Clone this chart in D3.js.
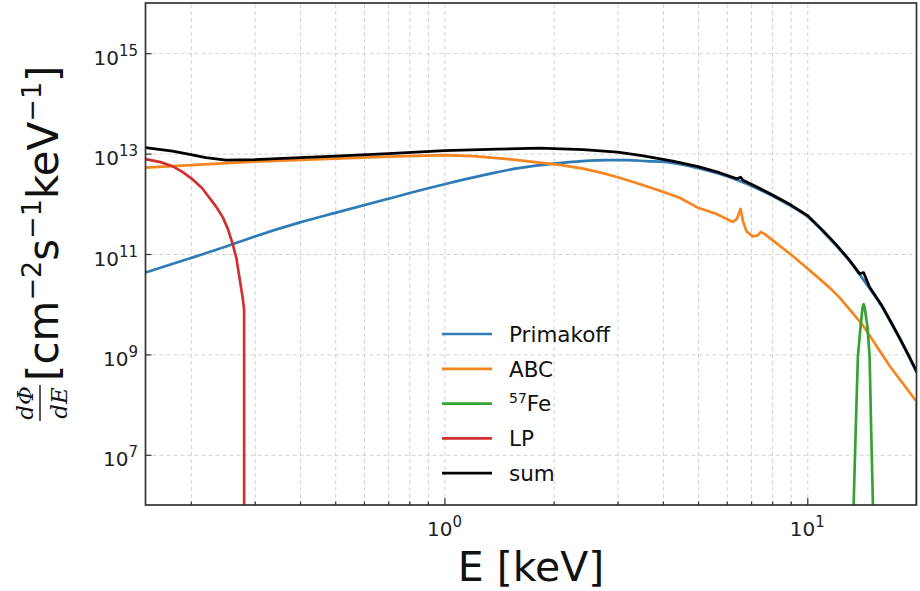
<!DOCTYPE html>
<html><head><meta charset="utf-8">
<script src="https://cdn.jsdelivr.net/npm/d3@7"></script>
<style>body{margin:0;background:#fff}svg{display:block}</style>
</head><body>
<svg id="c" width="920" height="591"></svg>
<script>
// ---- data (E in keV, flux in cm^-2 s^-1 keV^-1) ----
const seriesNames = ["Primakoff", "ABC", "57Fe", "LP", "sum"];
const seriesColors = ["#2f7bb6", "#f5861f", "#36a236", "#d03030", "#000000"];

const primakoffE = [0.15,0.2,0.25,0.3,0.4,0.5,0.7,1.0,1.3,1.6,2.0,2.4,2.8,3.2,3.6,4.2,4.8,5.4,6.0,6.6,7.2,8.0,9.0,10.0,11.0,12.0,13.0,14.0,15.0,16.0,17.0,18.0,19.0,20.0];
const primakoffFlux = [4.27e10,8.32e10,1.41e11,2.24e11,4.27e11,6.61e11,1.26e12,2.45e12,3.80e12,5.13e12,6.31e12,7.08e12,7.41e12,7.41e12,7.08e12,6.61e12,5.50e12,4.47e12,3.55e12,2.75e12,2.09e12,1.45e12,9.12e11,5.62e11,2.88e11,1.48e11,7.59e10,3.72e10,1.86e10,9.33e9,4.27e9,2.0e9,9.33e8,4.37e8];

const abcE = [0.15,0.2,0.3,0.5,0.7,1.0,1.2,1.5,1.83,2.1,2.41,2.7,3.04,3.5,4.0,4.45,5.0,5.6,6.23,6.4,6.55,6.65,6.8,7.08,7.3,7.45,7.62,8.0,9.12,10.2,11.52,12.28,14.17,16.87,19.76,20.0,20.0];
const abcFlux = [5.25e12,5.89e12,6.92e12,7.94e12,8.71e12,9.33e12,8.91e12,7.76e12,6.61e12,5.89e12,5.01e12,4.17e12,3.31e12,2.40e12,1.74e12,1.32e12,8.32e11,6.31e11,4.37e11,5.01e11,7.94e11,4.47e11,2.82e11,2.24e11,2.34e11,2.75e11,2.51e11,1.91e11,9.12e10,4.57e10,2.14e10,1.35e10,3.98e9,5.89e8,1.29e8,1.17e8,1e1];

const feE = [13.0,13.42,13.6,13.79,14.03,14.2,14.3,14.4,14.64,14.85,15.0,15.17,15.6];
const feFlux = [1e2,1e6,3.2e7,9.3e8,3.7e9,8.5e9,1.0e10,8.5e9,3.7e9,9.3e8,3.2e7,1e6,1e2];

const lpE = [0.15,0.165,0.178,0.19,0.202,0.215,0.225,0.235,0.245,0.253,0.261,0.267,0.272,0.277,0.2805,0.2806];
const lpFlux = [7.76e12,6.76e12,5.62e12,4.27e12,3.09e12,2.04e12,1.32e12,8.7e11,5.37e11,3.16e11,1.55e11,8.3e10,3.55e10,1.58e10,7.9e9,1];

const sumE = [0.15,0.178,0.2,0.22,0.25,0.3,0.4,0.5,0.7,1.0,1.4,1.83,2.41,3.0,3.5,4.26,5.0,5.73,6.4,6.55,6.65,7.2,8.0,9.0,10.0,11.0,12.0,13.0,13.94,14.3,14.5,14.85,15.5,16.0,17.0,18.0,19.0,20.0];
const sumFlux = [1.32e13,1.12e13,9.55e12,8.32e12,7.41e12,7.59e12,8.32e12,8.91e12,1.0e13,1.15e13,1.23e13,1.29e13,1.20e13,1.07e13,9.12e12,7.08e12,5.50e12,4.17e12,3.16e12,3.39e12,2.95e12,2.24e12,1.51e12,9.55e11,5.89e11,3.02e11,1.55e11,7.94e10,4.07e10,4.27e10,3.31e10,2.19e10,1.38e10,9.77e9,4.47e9,2.09e9,9.77e8,4.68e8];

const xMajorTicks = [1, 10];
const xMinorTicks = [0.2,0.3,0.4,0.5,0.6,0.7,0.8,0.9,2,3,4,5,6,7,8,9];
const xTickExp = ["0", "1"];
const yMajorTicks = [1e7, 1e9, 1e11, 1e13, 1e15];
const yTickExp = ["7", "9", "11", "13", "15"];

// ---- layout ----
const svg = d3.select("#c");
const L = 145.5, R = 916.5, T = 3, B = 505;
const x = d3.scaleLog().domain([0.15, 20]).range([L, R]);
const y = d3.scaleLog().domain([1e6, 1e16]).range([B, T]);

svg.append("rect").attr("width", 920).attr("height", 591).attr("fill", "#fff");
svg.append("defs").append("clipPath").attr("id", "clip")
  .append("rect").attr("x", L).attr("y", T).attr("width", R - L).attr("height", B - T);

// grid
const gx = svg.append("g").attr("transform", `translate(0,${B})`)
  .call(d3.axisBottom(x).tickValues(xMajorTicks.concat(xMinorTicks)).tickSize(-(B - T)).tickFormat(""));
gx.select(".domain").remove();
gx.selectAll("line").attr("stroke", "#d2d2d2").attr("stroke-width", 1).attr("stroke-dasharray", "4,3");
const gy = svg.append("g").attr("transform", `translate(${L},0)`)
  .call(d3.axisLeft(y).tickValues(yMajorTicks).tickSize(-(R - L)).tickFormat(""));
gy.select(".domain").remove();
gy.selectAll("line").attr("stroke", "#d2d2d2").attr("stroke-width", 1).attr("stroke-dasharray", "4,3");

// lines
const allE = [primakoffE, abcE, feE, lpE, sumE];
const allF = [primakoffFlux, abcFlux, feFlux, lpFlux, sumFlux];
const curves = [d3.curveMonotoneX, d3.curveLinear, d3.curveLinear, d3.curveLinear, d3.curveLinear];
const plot = svg.append("g").attr("clip-path", "url(#clip)");
allE.forEach((es, i) => {
  const pts = es.map((e, j) => [e, allF[i][j]]);
  const line = d3.line().x(d => x(d[0])).y(d => y(Math.max(d[1], 1e-2))).curve(curves[i]);
  plot.append("path").datum(pts).attr("d", line).attr("fill", "none")
    .attr("stroke", seriesColors[i]).attr("stroke-width", 2.7)
    .attr("stroke-linejoin", "round").attr("stroke-linecap", "round");
});

// ticks (inward)
const tk = (g) => { g.select(".domain").remove(); g.selectAll("line").attr("stroke", "#333").attr("stroke-width", 1.2); };
svg.append("g").attr("transform", `translate(0,${B})`)
  .call(d3.axisBottom(x).tickValues(xMajorTicks).tickSize(-7).tickFormat("")).call(tk);
svg.append("g").attr("transform", `translate(0,${B})`)
  .call(d3.axisBottom(x).tickValues(xMinorTicks).tickSize(-3.5).tickFormat("")).call(tk);
svg.append("g").attr("transform", `translate(${L},0)`)
  .call(d3.axisLeft(y).tickValues(yMajorTicks).tickSize(-6).tickFormat("")).call(tk);

// frame
svg.append("rect").attr("x", L).attr("y", T).attr("width", R - L).attr("height", B - T)
  .attr("fill", "none").attr("stroke", "#333").attr("stroke-width", 1.7);

// tick labels
const font = "DejaVu Sans, sans-serif";
xMajorTicks.forEach((v, i) => {
  const t = svg.append("text").attr("x", x(v)).attr("y", 536).attr("text-anchor", "middle")
    .attr("font-family", font).attr("font-size", 20).attr("fill", "#222");
  t.append("tspan").text("10");
  t.append("tspan").attr("dy", -9).attr("font-size", 15).text(xTickExp[i]);
});
yMajorTicks.forEach((v, i) => {
  const t = svg.append("text").attr("x", 138).attr("y", y(v) + 11.5).attr("text-anchor", "end")
    .attr("font-family", font).attr("font-size", 20).attr("fill", "#222");
  t.append("tspan").text("10");
  t.append("tspan").attr("dy", -9).attr("font-size", 15).text(yTickExp[i]);
});

// axis labels
svg.append("text").attr("x", (L + R) / 2).attr("y", 581).attr("text-anchor", "middle")
  .attr("font-family", font).attr("font-size", 41).attr("fill", "#111").text("E [keV]");

const yl = svg.append("g").attr("transform", "translate(58,421) rotate(-90)");
yl.append("text").attr("x", 18).attr("y", -25).attr("text-anchor", "middle")
  .attr("font-family", "DejaVu Serif, serif").attr("font-style", "italic").attr("font-size", 23).attr("fill", "#111").text("dΦ");
yl.append("line").attr("x1", 0).attr("x2", 36).attr("y1", -18).attr("y2", -18).attr("stroke", "#111").attr("stroke-width", 1.4);
yl.append("text").attr("x", 18).attr("y", 9).attr("text-anchor", "middle")
  .attr("font-family", "DejaVu Serif, serif").attr("font-style", "italic").attr("font-size", 23).attr("fill", "#111").text("dE");
const ylt = yl.append("text").attr("x", 40).attr("y", 0)
  .attr("font-family", font).attr("font-size", 42).attr("fill", "#111");
[["[cm", 0], ["−2", 1], ["s", 0], ["−1", 1], ["keV", 0], ["−1", 1], ["]", 0]].forEach(([s, sup], i, arr) => {
  const prevSup = i > 0 && arr[i - 1][1];
  const ts = ylt.append("tspan").text(s);
  if (sup) ts.attr("font-size", 27).attr("dy", -17);
  else if (prevSup) ts.attr("dy", 17);
});

// legend
const lg = svg.append("g");
const legY = [334, 368.8, 403.6, 438.4, 473.2];
seriesNames.forEach((n, i) => {
  lg.append("line").attr("x1", 442).attr("x2", 492).attr("y1", legY[i]).attr("y2", legY[i])
    .attr("stroke", seriesColors[i]).attr("stroke-width", 2.7);
  const t = lg.append("text").attr("x", 509).attr("y", legY[i] + 7.8)
    .attr("font-family", font).attr("font-size", 21.5).attr("fill", "#111");
  if (n === "57Fe") {
    t.append("tspan").attr("font-size", 14).attr("dy", -8).text("57");
    t.append("tspan").attr("dy", 8).text("Fe");
  } else t.text(n);
});
</script>
</body></html>
